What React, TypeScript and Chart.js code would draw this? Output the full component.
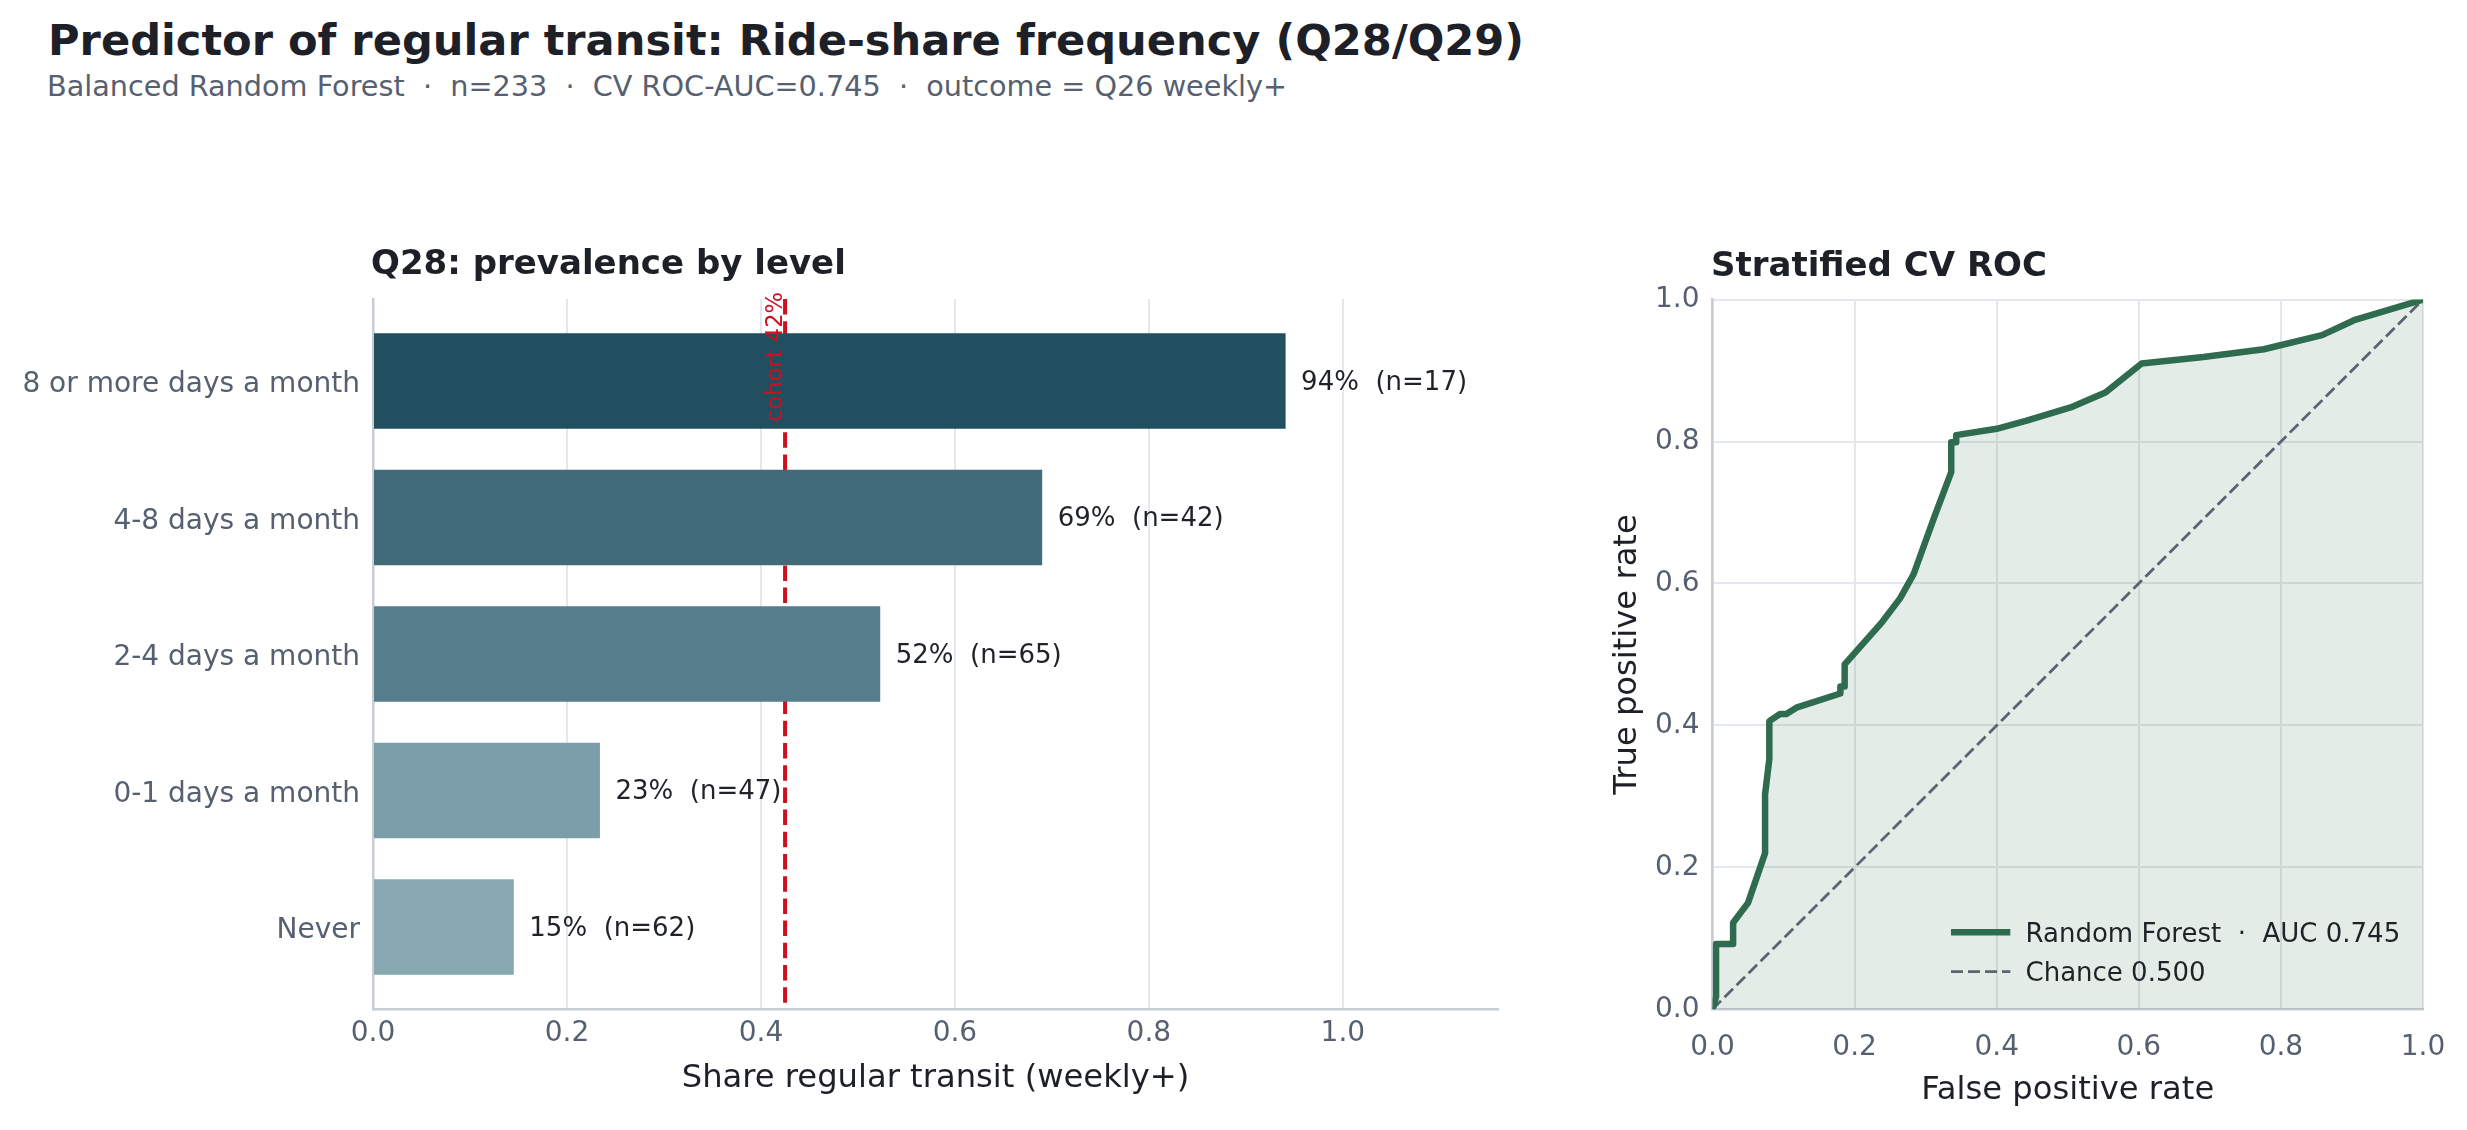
import React, { useEffect, useRef } from "react";
import { Chart, registerables } from "chart.js";

Chart.register(...registerables);

const FONT = "'DejaVu Sans', 'Noto Sans', sans-serif";
const INK = "#1d2127";
const MUTED = "#566070";
const SPINE = "#c8cdd4";
const GRID = "#e4e7eb";
const RED = "#cc1020";
const GREEN = "#2e6b4f";

// ---- Left panel data ----
const categories = [
  "8 or more days a month",
  "4-8 days a month",
  "2-4 days a month",
  "0-1 days a month",
  "Never",
];
const shareValues = [0.941, 0.69, 0.523, 0.234, 0.1452];
const counts = [17, 42, 65, 47, 62];
const barColors = ["#214f5f", "#416b7a", "#567d8b", "#7b9eaa", "#87a7b1"];
const cohortShare = 0.4249;

// ---- Right panel data ----
const fprValues = [
  0, 0.005, 0.005, 0.029, 0.029, 0.05, 0.074, 0.074, 0.08, 0.08, 0.095, 0.104,
  0.118, 0.18, 0.18, 0.186, 0.186, 0.239, 0.264, 0.283, 0.312, 0.336, 0.336,
  0.343, 0.343, 0.4, 0.441, 0.504, 0.553, 0.604, 0.691, 0.776, 0.858, 0.903, 1.0,
];
const tprValues = [
  0, 0.018, 0.092, 0.092, 0.122, 0.15, 0.22, 0.303, 0.353, 0.406, 0.416, 0.416,
  0.425, 0.445, 0.455, 0.455, 0.486, 0.546, 0.579, 0.613, 0.693, 0.757, 0.799,
  0.799, 0.809, 0.818, 0.829, 0.848, 0.869, 0.91, 0.919, 0.93, 0.95, 0.971, 1.0,
];
const chanceX = [0, 1];
const chanceY = [0, 1];
const rocLabel = "Random Forest  \u00b7  AUC 0.745";
const chanceLabel = "Chance 0.500";

const tickFont = { family: FONT, size: 28 };
const axisTitleFont = { family: FONT, size: 32.2 };

const barPlugin = {
  id: "barExtras",
  beforeDatasetsDraw(chart: any) {
    const { ctx, chartArea, scales } = chart;
    const x = scales.x.getPixelForValue(cohortShare);
    ctx.save();
    ctx.strokeStyle = RED;
    ctx.lineWidth = 4;
    ctx.setLineDash([15.5, 6.7]);
    ctx.beginPath();
    ctx.moveTo(x, chartArea.top);
    ctx.lineTo(x, chartArea.bottom);
    ctx.stroke();
    ctx.restore();
  },
  afterDatasetsDraw(chart: any) {
    const { ctx, chartArea, scales } = chart;
    const meta = chart.getDatasetMeta(0);
    ctx.save();
    ctx.font = `26px ${FONT}`;
    ctx.fillStyle = "#1f2328";
    ctx.textAlign = "left";
    ctx.textBaseline = "middle";
    meta.data.forEach((el: any, i: number) => {
      const txt = `${Math.round(shareValues[i] * 100)}%  (n=${counts[i]})`;
      ctx.fillText(txt, el.x + 15.5, el.y + 2);
    });
    const x = scales.x.getPixelForValue(cohortShare);
    ctx.translate(x - 3.5, chartArea.top - 7);
    ctx.rotate(-Math.PI / 2);
    ctx.font = `22.6px ${FONT}`;
    ctx.fillStyle = RED;
    ctx.textAlign = "right";
    ctx.textBaseline = "alphabetic";
    ctx.fillText(`cohort ${Math.round(cohortShare * 100)}%`, 0, 0);
    ctx.restore();
  },
};

const rocLegendPlugin = {
  id: "rocLegend",
  afterDatasetsDraw(chart: any) {
    const { ctx, chartArea } = chart;
    const ds = chart.data.datasets;
    ctx.save();
    ctx.font = `26px ${FONT}`;
    const maxW = Math.max(...ds.map((d: any) => ctx.measureText(d.label).width));
    const textX = chartArea.right - 22.8 - maxW;
    const lineEnd = textX - 15.2;
    const lineStart = lineEnd - 59.3;
    const y2 = chartArea.bottom - 37.6;
    const rows = [y2 - 39.4, y2];
    ds.forEach((d: any, i: number) => {
      const y = rows[i];
      ctx.strokeStyle = d.borderColor;
      ctx.lineWidth = d.borderWidth;
      ctx.setLineDash(d.borderDash || []);
      ctx.lineCap = "butt";
      ctx.beginPath();
      ctx.moveTo(lineStart, y);
      ctx.lineTo(lineEnd, y);
      ctx.stroke();
      ctx.setLineDash([]);
      ctx.fillStyle = "#1f2328";
      ctx.textAlign = "left";
      ctx.textBaseline = "alphabetic";
      ctx.fillText(d.label, textX, y + 9.5);
    });
    ctx.restore();
  },
};

function makeBarChart(canvas: HTMLCanvasElement) {
  return new Chart(canvas, {
    type: "bar",
    data: {
      datasets: [
        {
          data: categories.map((_, i) => ({ x: shareValues[i], y: i })) as any,
          backgroundColor: barColors,
          borderWidth: 0,
          barPercentage: 0.7,
          categoryPercentage: 1.0,
        },
      ],
    },
    options: {
      indexAxis: "y",
      responsive: false,
      animation: false,
      events: [],
      layout: { padding: { left: 0, top: 59, right: 32, bottom: 0 } },
      plugins: { legend: { display: false }, tooltip: { enabled: false } },
      scales: {
        x: {
          type: "linear",
          min: 0,
          max: 1.16,
          offset: false,
          ticks: {
            stepSize: 0.2,
            includeBounds: false,
            callback: (v: any) => Number(v).toFixed(1),
            font: tickFont,
            color: MUTED,
            padding: 7.5,
          },
          grid: { color: GRID, lineWidth: 2, drawTicks: false, offset: false },
          border: { display: true, color: SPINE, width: 2.5 },
          title: {
            display: true,
            text: "Share regular transit (weekly+)",
            font: axisTitleFont,
            color: INK,
            padding: { top: 0, bottom: 32.2 },
          },
          afterFit: (s: any) => {
            s.height = 121;
          },
        },
        y: {
          type: "linear",
          min: -0.6,
          max: 4.6,
          reverse: true,
          offset: false,
          ticks: {
            stepSize: 1,
            includeBounds: false,
            autoSkip: false,
            callback: (v: any) => categories[Number(v)] ?? "",
            font: tickFont,
            color: MUTED,
            padding: 13,
            labelOffset: 4,
          },
          grid: { display: false, drawTicks: false, offset: false },
          border: { display: true, color: SPINE, width: 2.5 },
          afterFit: (s: any) => {
            s.width = 373;
          },
        },
      },
    } as any,
    plugins: [barPlugin],
  });
}

function makeRocChart(canvas: HTMLCanvasElement) {
  return new Chart(canvas, {
    type: "line",
    data: {
      datasets: [
        {
          label: rocLabel,
          data: fprValues.map((x, i) => ({ x, y: tprValues[i] })),
          borderColor: GREEN,
          borderWidth: 6.5,
          backgroundColor: "rgba(46,110,80,0.13)",
          fill: "origin",
          pointRadius: 0,
          tension: 0,
          borderJoinStyle: "round",
          order: 0,
        },
        {
          label: chanceLabel,
          data: chanceX.map((x, i) => ({ x, y: chanceY[i] })),
          borderColor: "#5b6470",
          borderWidth: 2.8,
          borderDash: [12, 5],
          fill: false,
          pointRadius: 0,
          tension: 0,
          order: 1,
        },
      ],
    },
    options: {
      responsive: false,
      animation: false,
      events: [],
      layout: { padding: { left: 0, top: 59.6, right: 77, bottom: 0 } },
      plugins: {
        legend: { display: false },
        tooltip: { enabled: false },
        filler: { drawTime: "beforeDatasetsDraw" },
      },
      scales: {
        x: {
          type: "linear",
          min: 0,
          max: 1,
          ticks: {
            stepSize: 0.2,
            callback: (v: any) => Number(v).toFixed(1),
            font: tickFont,
            color: MUTED,
            padding: 21.2,
          },
          grid: { color: GRID, lineWidth: 2, drawTicks: false },
          border: { display: true, color: SPINE, width: 2.5 },
          title: {
            display: true,
            text: "False positive rate",
            font: axisTitleFont,
            color: INK,
            padding: { top: 0, bottom: 20.2 },
          },
          afterFit: (s: any) => {
            s.height = 120.7;
          },
        },
        y: {
          type: "linear",
          min: 0,
          max: 1,
          ticks: {
            stepSize: 0.2,
            callback: (v: any) => Number(v).toFixed(1),
            font: tickFont,
            color: MUTED,
            padding: 13,
          },
          grid: { color: GRID, lineWidth: 2, drawTicks: false },
          border: { display: true, color: SPINE, width: 2.5 },
          title: {
            display: true,
            text: "True positive rate",
            font: axisTitleFont,
            color: INK,
            padding: { top: 48.7, bottom: 0 },
          },
          afterFit: (s: any) => {
            s.width = 152.5;
          },
        },
      },
    } as any,
    plugins: [rocLegendPlugin],
  });
}

export default function App() {
  const barRef = useRef<HTMLCanvasElement>(null);
  const rocRef = useRef<HTMLCanvasElement>(null);

  useEffect(() => {
    const charts: Chart[] = [];
    if (barRef.current) charts.push(makeBarChart(barRef.current));
    if (rocRef.current) charts.push(makeRocChart(rocRef.current));
    return () => charts.forEach((c) => c.destroy());
  }, []);

  const abs: React.CSSProperties = { position: "absolute", margin: 0, lineHeight: 1, whiteSpace: "pre", fontFamily: FONT };

  return (
    <div
      style={{
        position: "absolute",
        left: 0,
        top: 0,
        width: 2467,
        height: 1130,
        overflow: "hidden",
        background: "#ffffff",
      }}
    >
      <canvas
        ref={barRef}
        width={1530}
        height={890}
        style={{ position: "absolute", left: 0, top: 240, width: 1530, height: 890 }}
      />
      <canvas
        ref={rocRef}
        width={940}
        height={890}
        style={{ position: "absolute", left: 1560, top: 240, width: 940, height: 890 }}
      />
      <div style={{ ...abs, left: 48, top: 18.5, fontSize: 43.15, fontWeight: 700, color: INK }}>
        Predictor of regular transit: Ride-share frequency (Q28/Q29)
      </div>
      <div style={{ ...abs, left: 47, top: 71.6, fontSize: 28.7, color: MUTED }}>
        {"Balanced Random Forest  \u00b7  n=233  \u00b7  CV ROC-AUC=0.745  \u00b7  outcome = Q26 weekly+"}
      </div>
      <div style={{ ...abs, left: 371, top: 245.2, fontSize: 34, fontWeight: 700, color: INK }}>
        Q28: prevalence by level
      </div>
      <div style={{ ...abs, left: 1711, top: 246.5, fontSize: 34, fontWeight: 700, color: INK }}>
        Stratified CV ROC
      </div>
    </div>
  );
}
